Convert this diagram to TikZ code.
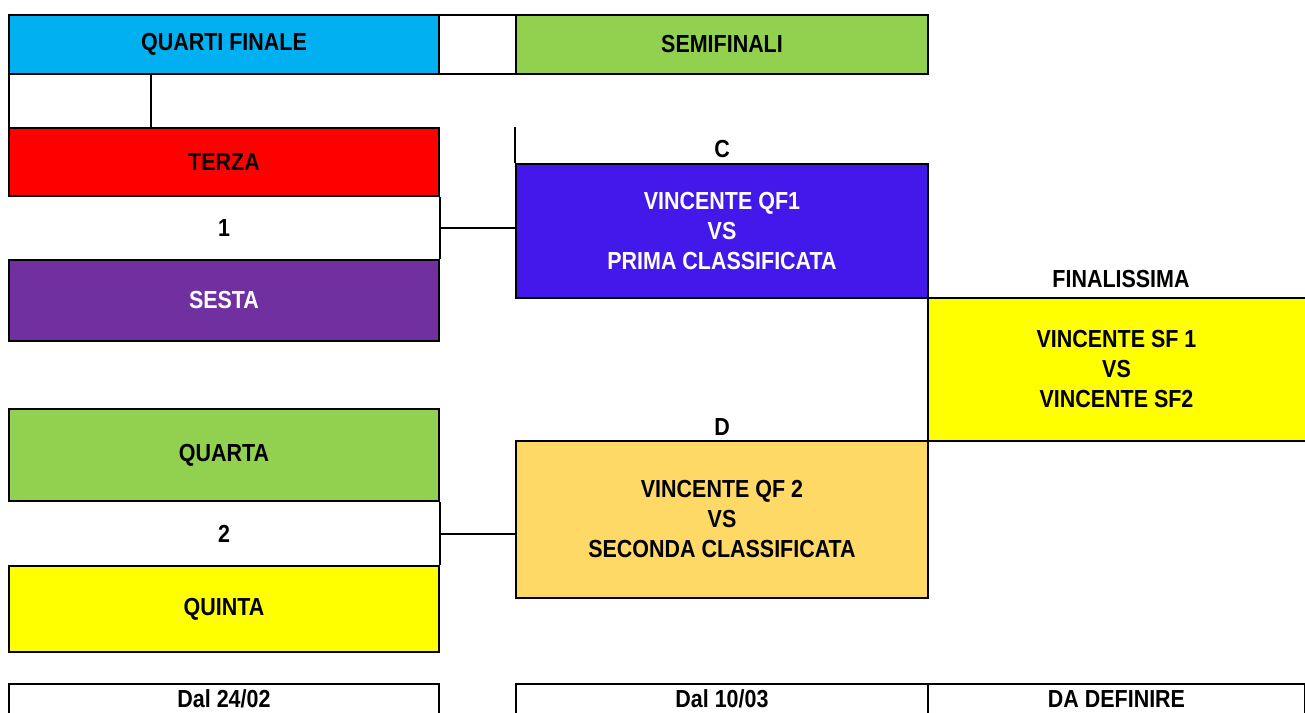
\documentclass[tikz,border=0pt]{standalone}
\usepackage{fontspec}
\setmainfont{Liberation Sans}[FakeStretch=0.87]
\usetikzlibrary{positioning}

\definecolor{qfblue}{HTML}{00B0F0}
\definecolor{sfgreen}{HTML}{92D050}
\definecolor{terzared}{HTML}{FF0000}
\definecolor{sestapurple}{HTML}{7030A0}
\definecolor{cblue}{HTML}{4318EA}
\definecolor{finyellow}{HTML}{FFFF00}
\definecolor{dgold}{HTML}{FFD966}

\begin{document}
\begin{tikzpicture}[x=0.75pt,y=-0.75pt,
  every node/.style={font=\fontsize{18.5}{22.5}\selectfont\bfseries},
  cell/.style={draw,line width=1.5pt,inner sep=0pt,align=center},
  open/.style={inner sep=0pt,align=center},
  cellsize/.style 2 args={minimum width=#1*0.75pt,minimum height=#2*0.75pt},
  wire/.style={line width=1.5pt}]
  \clip (0,0) rectangle (1305,713);

  % header
  \node[cell,fill=qfblue,cellsize={430}{59}]  (qf)    at (224,44.5)  {QUARTI FINALE};
  \node[cell,cellsize={77}{59}]               (gap)   at (477.5,44.5) {};
  \node[cell,fill=sfgreen,cellsize={412}{59}] (sf)    at (722,44.5)  {SEMIFINALI};
  \node[cell,cellsize={142}{54}]              (blank) at (80,101)    {};

  % quarti
  \node[cell,fill=terzared,cellsize={430}{68}]               (terza)  at (224,162)   {TERZA};
  \node[cell,fill=sestapurple,text=white,cellsize={430}{81}] (sesta)  at (224,300.5) {SESTA};
  \node[cell,fill=sfgreen,cellsize={430}{92}]                (quarta) at (224,455)   {QUARTA};
  \node[cell,fill=finyellow,cellsize={430}{86}]              (quinta) at (224,609)   {QUINTA};

  % semifinali
  \node[cell,fill=cblue,text=white,cellsize={412}{134}] (semic) at (722,231)
    {VINCENTE QF1\\VS\\PRIMA CLASSIFICATA};
  \node[cell,fill=dgold,cellsize={412}{157}] (semid) at (722,519.5)
    {VINCENTE QF 2\\VS\\SECONDA CLASSIFICATA};
  \node[open] (labc) at (722,149) {C};
  \node[open] (labd) at (722,427) {D};

  % finale
  \node[open,fill=finyellow,cellsize={377}{143}] (fin) at (1116.5,369.5)
    {VINCENTE SF 1\\VS\\VINCENTE SF2};
  \node[open] (labfin) at (1121,279) {FINALISSIMA};

  % date
  \node[open,cellsize={430}{30}] (dal1) at (224,699)    {Dal 24/02};
  \node[open,cellsize={412}{30}] (dal2) at (722,699)    {Dal 10/03};
  \node[open,cellsize={377}{30}] (tbd)  at (1116.5,699) {DA DEFINIRE};

  % tabellone
  \path (terza.south east) -- (sesta.north east) coordinate[midway] (j1);
  \path (quarta.south east) -- (quinta.north east) coordinate[midway] (j2);
  \node[open] (n1) at (j1 -| terza) {1};
  \node[open] (n2) at (j2 -| quarta) {2};
  \draw[wire] (terza.south east) -- (sesta.north east);
  \draw[wire] (quarta.south east) -- (quinta.north east);
  \draw[wire] (j1) -- (j1 -| semic.west);
  \draw[wire] (j2) -- (j2 -| semid.west);
  \draw[wire] (semic.north west) -- (semic.north west |- terza.north);
  \draw[wire] (fin.north east) -- (fin.north west) -- (fin.south west) -- (fin.south east);
  \foreach \d in {dal1,dal2,tbd}
    \draw[wire] (\d.south west) -- (\d.north west) -- (\d.north east) -- (\d.south east);
\end{tikzpicture}
\end{document}
